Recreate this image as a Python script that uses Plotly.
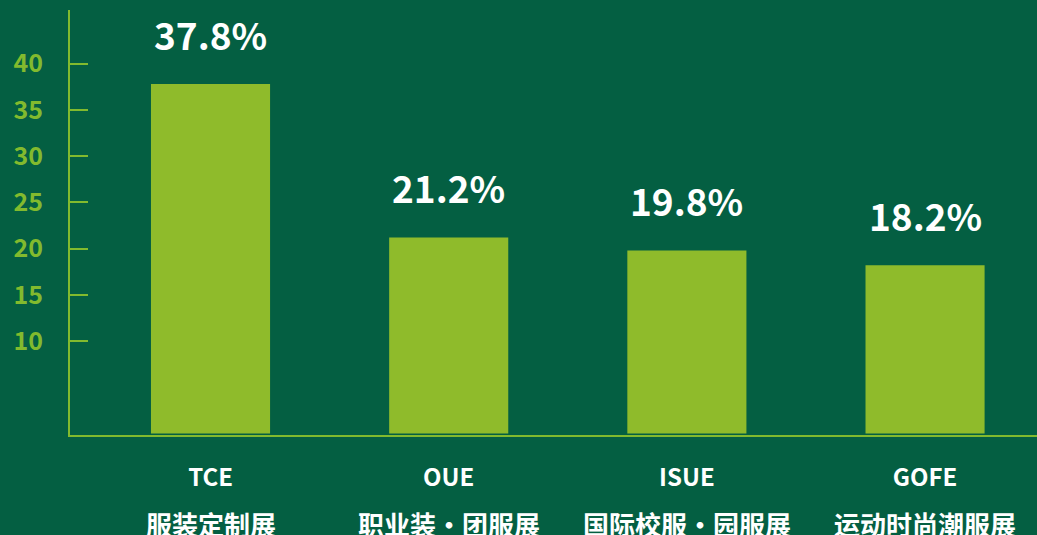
import plotly.graph_objects as go

codes = ["TCE", "OUE", "ISUE", "GOFE"]
names = ["服装定制展", "职业装·团服展", "国际校服·园服展", "运动时尚潮服展"]
values = [37.8, 21.2, 19.8, 18.2]
value_labels = ["37.8%", "21.2%", "19.8%", "18.2%"]
y_ticks = [10, 15, 20, 25, 30, 35, 40]

BG = "#045F42"
BAR = "#8FBB2B"
AXIS = "#82BA2E"
FONT = "Noto Sans CJK SC"

fig = go.Figure()
fig.add_trace(go.Bar(
    x=list(range(len(codes))), y=values, width=0.5,
    marker=dict(color=BAR, line=dict(width=0)),
    hoverinfo="skip",
))

for i, (v, lab) in enumerate(zip(values, value_labels)):
    fig.add_annotation(x=i, y=v, xref="x", yref="y", text=f"<b>{lab}</b>",
                       showarrow=False, yanchor="bottom", yshift=21,
                       font=dict(family=FONT, size=37, color="white"))
for i, nm in enumerate(names):
    fig.add_annotation(x=i, y=0, xref="x", yref="paper", text=f"<b>{nm}</b>",
                       showarrow=False, yanchor="middle", yshift=-88,
                       font=dict(family=FONT, size=26, color="white"))

fig.update_layout(
    width=1037, height=535,
    margin=dict(l=70, r=0, t=10, b=100),
    paper_bgcolor=BG, plot_bgcolor=BG,
    showlegend=False,
    xaxis=dict(range=[-0.59, 3.47], tickvals=list(range(len(codes))),
               ticktext=[f"<b>{c}</b>" for c in codes],
               tickfont=dict(family=FONT, size=24, color="white"),
               showgrid=False, zeroline=False, showline=True, linecolor=AXIS,
               linewidth=2, ticks="", ticklabelstandoff=20, fixedrange=True),
    yaxis=dict(range=[-0.16, 45.8], tickvals=y_ticks,
               ticktext=[f"<b>{t}</b>" for t in y_ticks],
               tickfont=dict(family=FONT, size=25, color=AXIS),
               showgrid=False, zeroline=False, showline=True, linecolor=AXIS,
               linewidth=2, ticks="inside", ticklen=18, tickwidth=2, tickcolor=AXIS,
               ticklabelstandoff=20, fixedrange=True),
)

fig.write_html("out.html", config={"displayModeBar": False},
               post_script="document.body.style.margin='0';document.body.style.background='#045F42';")
